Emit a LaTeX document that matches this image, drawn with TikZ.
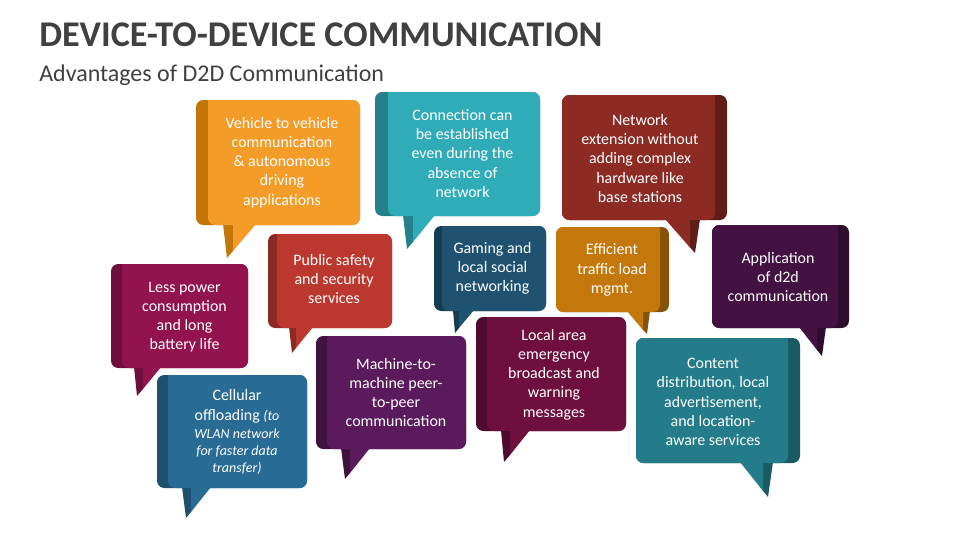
\documentclass[tikz,border=0pt]{standalone}
\usepackage{fontspec}
\setmainfont{Carlito}
\definecolor{ttl}{HTML}{404040}
\newcommand{\bubble}[9]{%
 % #1 x0,#2 y0,#3 x1,#4 y1 ; #5 divider ; #6 front ; #7 dark ; #8 tail a/b/c/yb ; #9 tip
 \def\bxa{#1}\def\bya{#2}\def\bxb{#3}\def\byb{#4}\def\bdv{#5}\def\bfr{#6}\def\bdk{#7}%
 \bubbletail#8\relax{#9}}
\def\bubbletail#1/#2/#3/#4\relax#5{%
 \fill[\bdk] (#1,\byb-1) -- (#5) -- (#2,#4) -- (#2,\byb-1) -- cycle;
 \fill[\bdk,rounded corners=5.5pt] (\bxa,\bya) rectangle (\bxb,\byb);
 \ifnum\bdv<\numexpr\bxa+30\relax
   \fill[\bfr,rounded corners=5.5pt] (\bdv,\bya) rectangle (\bxb,\byb);
   \fill[\bfr] (\bdv,\bya) rectangle (\bdv+10,\bya+10);
 \else
   \fill[\bfr,rounded corners=5.5pt] (\bxa,\bya) rectangle (\bdv,\byb);
   \fill[\bfr] (\bdv-10,\bya) rectangle (\bdv,\bya+10);
 \fi
 \fill[\bfr] (#2,\byb-1) -- (#3,\byb-1) -- (#2,#4) -- cycle;
}
\newcommand{\itsmall}[1]{\fontsize{10.5pt}{12.75pt}\selectfont\itshape #1}
\tikzset{
 label/.style={text=white,align=center,font=\fontsize{11.95pt}{14.4pt}\selectfont,inner sep=0pt},
 title/.style={text=ttl,anchor=west,inner sep=0pt}
}
\begin{document}
\begin{tikzpicture}[x=0.75pt,y=-0.75pt]
\useasboundingbox (0,0) rectangle (960,540);
\node[title,font=\fontsize{27.15pt}{32pt}\selectfont\bfseries] (heading) at (39,35) {DEVICE-TO-DEVICE COMMUNICATION};
\node[title,font=\fontsize{18pt}{22pt}\selectfont] (sub) at (39,75) {Advantages of D2D Communication};

\definecolor{c1}{HTML}{F39C28}\definecolor{d1}{HTML}{C27608}
\bubble{196}{100}{360}{225}{208}{c1}{d1}{223/233/256/251}{227,258}
\definecolor{c2}{HTML}{30ACB9}\definecolor{d2}{HTML}{24808A}
\bubble{375}{92}{540}{216}{388}{c2}{d2}{403/413/435/242}{407,249}
\definecolor{c3}{HTML}{8B2B24}\definecolor{d3}{HTML}{5F1D18}
\bubble{562}{95}{727}{220}{715}{c3}{d3}{700/690/665/247.5}{695,253}
\definecolor{c4}{HTML}{93134F}\definecolor{d4}{HTML}{6E0E3C}
\bubble{111}{264}{248}{368}{122}{c4}{d4}{134/143/161/389}{137,396}
\definecolor{c5}{HTML}{BC382E}\definecolor{d5}{HTML}{8B2A22}
\bubble{268}{234}{392}{328}{277}{c5}{d5}{289/296/313/348}{292,353}
\definecolor{c6}{HTML}{1F5270}\definecolor{d6}{HTML}{163C52}
\bubble{434}{226}{546}{311}{442}{c6}{d6}{453/459/474/328}{455,333}
\definecolor{c7}{HTML}{C4770A}\definecolor{d7}{HTML}{85520A}
\bubble{556}{227}{669}{312}{660}{c7}{d7}{650/643/627/330}{647,334}
\definecolor{c8}{HTML}{431243}\definecolor{d8}{HTML}{2E0C2E}
\bubble{712}{225}{849}{328}{838}{c8}{d8}{826/817/799/350}{822,356}
\definecolor{c9}{HTML}{286C96}\definecolor{d9}{HTML}{1E5070}
\bubble{157}{375}{307}{488}{168}{c9}{d9}{182/191/211/512}{186,518}
\definecolor{c10}{HTML}{5A1A5C}\definecolor{d10}{HTML}{3F1240}
\bubble{316}{336}{466}{449}{327}{c10}{d10}{341/350/370/473}{345,479}
\definecolor{c11}{HTML}{6E0F3E}\definecolor{d11}{HTML}{4F0B2D}
\bubble{476}{317}{626}{431}{487}{c11}{d11}{501/510/530/455}{504,462}
\definecolor{c12}{HTML}{247C8A}\definecolor{d12}{HTML}{1A5A64}
\bubble{636}{338}{800}{463}{788}{c12}{d12}{773/763/740/491}{768,497}

\node[label] (t1) at (282,162.5) {Vehicle to vehicle\\communication\\\&~autonomous\\driving\\applications};
\node[label] (t2) at (462.5,153.5) {Connection can\\be established\\even during the\\absence of\\network};
\node[label] (t3) at (640,158.5) {Network\\extension without\\adding complex\\hardware like\\base stations};
\node[label] (t4) at (184.5,317) {Less power\\consumption\\and long\\battery life};
\node[label] (t5) at (334,279) {Public safety\\and security\\services};
\node[label] (t6) at (492.5,268.5) {Gaming and\\local social\\networking};
\node[label] (t7) at (612,270) {Efficient\\traffic load\\mgmt.};
\node[label] (t8) at (778,277) {Application\\of d2d\\communication};
\node[label] (t9) at (237,432) {Cellular\\offloading {\itsmall{(to}}\\[-0.9pt]{\itsmall{WLAN network}}\\[-1.65pt]{\itsmall{for faster data}}\\[-1.65pt]{\itsmall{transfer)}}};
\node[label] (t10) at (396,392.5) {Machine-to-\\machine peer-\\to-peer\\communication};
\node[label] (t11) at (554,374.5) {Local area\\emergency\\broadcast and\\warning\\messages};
\node[label] (t12) at (713,402) {Content\\distribution, local\\advertisement,\\and location-\\aware services};
\end{tikzpicture}
\end{document}
